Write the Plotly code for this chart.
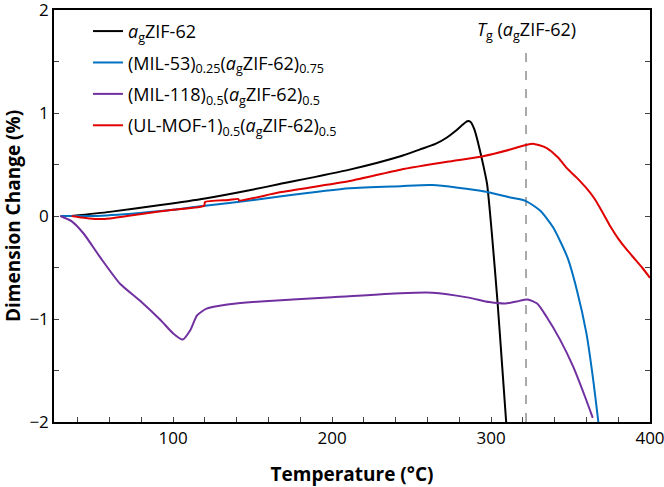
import plotly.graph_objects as go

FONT = "Open Sans, Lato, sans-serif"

# agZIF-62
zif_t = [36, 60, 92, 120, 148, 167, 211, 243, 255, 265, 272, 278, 282, 285,
         287, 289.5, 292, 295, 297.5, 300.5, 304, 307, 309.5]
zif_y = [0, 0.04, 0.106, 0.17, 0.25, 0.31, 0.45, 0.58, 0.645, 0.70, 0.76,
         0.83, 0.885, 0.92, 0.915, 0.84, 0.70, 0.50, 0.31, -0.17, -0.82, -1.46,
         -2.0]

# (MIL-53)0.25(agZIF-62)0.75
mil53_t = [29, 50, 79, 100, 120, 148, 167, 211, 243, 263, 295, 312, 322, 331,
           339, 348, 354, 360, 364, 367.5]
mil53_y = [0, 0.0, 0.03, 0.06, 0.10, 0.15, 0.19, 0.27, 0.29, 0.30, 0.24, 0.18,
           0.145, 0.05, -0.11, -0.40, -0.72, -1.14, -1.56, -2.0]

# (MIL-118)0.5(agZIF-62)0.5
mil118_t = [29, 36, 43.6, 54, 66.7, 79, 92, 100, 106, 110.7, 115, 121, 134, 155,
            200, 243, 263, 285, 299, 309, 316, 323, 329, 335, 343.4, 351.6, 359,
            364]
mil118_y = [0, -0.05, -0.17, -0.40, -0.66, -0.82, -1.01, -1.14, -1.20, -1.11,
            -0.965, -0.90, -0.86, -0.83, -0.79, -0.75, -0.745, -0.79, -0.836,
            -0.85, -0.83, -0.81, -0.85, -0.98, -1.2, -1.46, -1.75, -1.96]

# (UL-MOF-1)0.5(agZIF-62)0.5
ulmof_t = [36, 45, 52, 60, 80, 100, 119.5, 120, 135, 141, 141.5, 167, 211, 243,
           274, 295, 312, 322, 327, 335, 342, 348, 354, 360, 365, 370, 375, 380,
           385, 390, 395, 400]
ulmof_y = [0, -0.02, -0.03, -0.025, 0.02, 0.06, 0.10, 0.135, 0.155, 0.165,
           0.15, 0.23, 0.34, 0.45, 0.53, 0.58, 0.645, 0.69, 0.70, 0.66, 0.57,
           0.46, 0.37, 0.27, 0.17, 0.04, -0.10, -0.22, -0.32, -0.41, -0.50,
           -0.60]

TG = 322
TG_TOP = 1.6

series = [
    ("<i>a</i><sub>g</sub>ZIF-62", zif_t, zif_y, "#000000"),
    ("(MIL-53)<sub>0.25</sub>(<i>a</i><sub>g</sub>ZIF-62)<sub>0.75</sub>",
     mil53_t, mil53_y, "#0070C0"),
    ("(MIL-118)<sub>0.5</sub>(<i>a</i><sub>g</sub>ZIF-62)<sub>0.5</sub>",
     mil118_t, mil118_y, "#7030A0"),
    ("(UL-MOF-1)<sub>0.5</sub>(<i>a</i><sub>g</sub>ZIF-62)<sub>0.5</sub>",
     ulmof_t, ulmof_y, "#E00000"),
]

fig = go.Figure()
for i, (name, t, y, color) in enumerate(series):
    fig.add_trace(
        go.Scatter(x=t, y=y, name=name, mode="lines", legendgroup=f"g{i}",
                   line=dict(color=color, width=2, shape="spline",
                             smoothing=0.6))
    )

fig.add_shape(type="line", x0=TG, x1=TG, y0=-2, y1=TG_TOP, xref="x", yref="y",
              line=dict(color="#555555", width=1, dash="dash"), layer="below")
fig.add_annotation(x=TG, y=TG_TOP, yanchor="middle", yshift=21, showarrow=False,
                   text="<i>T</i><sub>g</sub> (<i>a</i><sub>g</sub>ZIF-62)",
                   font=dict(size=18, color="#000000", family=FONT))

fig.update_layout(
    width=664,
    height=487,
    paper_bgcolor="white",
    plot_bgcolor="white",
    margin=dict(l=54, r=14, t=10, b=65),
    font=dict(family=FONT, size=17, color="#000000"),
    showlegend=True,
    legend=dict(x=0.057, y=0.993, xanchor="left", yanchor="top",
                bgcolor="rgba(0,0,0,0)", font=dict(size=18),
                tracegroupgap=5, itemwidth=30),
    xaxis=dict(
        range=[25, 400], tick0=0, dtick=100, ticks="inside", ticklen=5,
        showline=True, linecolor="black", linewidth=1.5, mirror=True,
        showgrid=False, zeroline=False, automargin=False,
        ticklabeloverflow="allow",
        minor=dict(dtick=20, tick0=0, ticks="inside", ticklen=5),
        title=dict(text="<b>Temperature (°C)</b>", font=dict(size=19),
                   standoff=20),
    ),
    yaxis=dict(
        range=[-2, 2], tick0=0, dtick=1, ticks="inside", ticklen=5,
        showline=True, linecolor="black", linewidth=1.5, mirror="ticks",
        showgrid=False, zeroline=False, automargin=False,
        ticklabeloverflow="allow",
        minor=dict(dtick=0.5, tick0=0, ticks="inside", ticklen=5),
        title=dict(text="<b>Dimension Change (%)</b>", font=dict(size=19),
                   standoff=7),
    ),
)

fig.write_html("out.html", config={"displayModeBar": False},
               post_script="document.body.style.margin = '0';")
